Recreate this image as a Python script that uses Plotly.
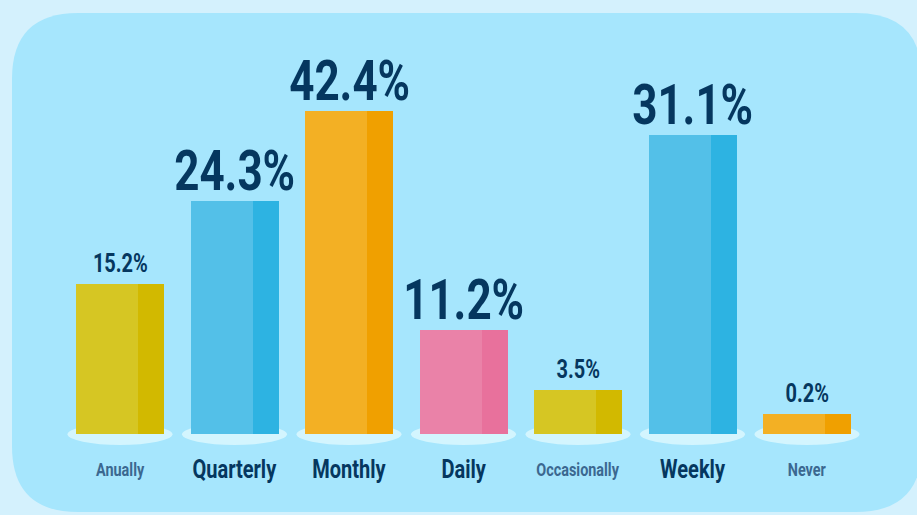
import plotly.graph_objects as go

# ---- data ----
categories = ["Anually", "Quarterly", "Monthly", "Daily", "Occasionally", "Weekly", "Never"]
value_labels = ["15.2%", "24.3%", "42.4%", "11.2%", "3.5%", "31.1%", "0.2%"]
bar_heights = [150, 233, 323, 104, 44, 299, 20]   # visual bar height as drawn
emphasis = [False, True, True, True, False, True, False]
light_colors = ["#d6c623", "#53c0e8", "#f3b024", "#ea82a8", "#d6c623", "#53c0e8", "#f3b024"]
dark_colors = ["#d2b900", "#2db3e2", "#f0a000", "#e8719c", "#d2b900", "#2db3e2", "#f0a000"]

W, H = 917, 515
SPACING = 114.5          # px per category
X0_PX = 120              # px centre of first category
BASE_PX = 434            # px of bar base

xs = list(range(len(categories)))
xrange_ = [-X0_PX / SPACING, (W - X0_PX) / SPACING]
yrange_ = [BASE_PX - H, BASE_PX]

bar_w = 88 / SPACING
light_w = 62 / SPACING
dark_w = bar_w - light_w

FONT = "Roboto, DejaVu Sans Condensed, sans-serif"
NAVY = "#05375f"
GREY = "#3b6890"
CONDENSE = 0.8

fig = go.Figure()
fig.add_trace(go.Bar(x=xs, y=bar_heights, width=light_w, offset=-bar_w / 2,
                     marker=dict(color=light_colors, line=dict(width=0)),
                     hoverinfo="skip", showlegend=False))
fig.add_trace(go.Bar(x=xs, y=bar_heights, width=dark_w, offset=-bar_w / 2 + light_w,
                     marker=dict(color=dark_colors, line=dict(width=0)),
                     hoverinfo="skip", showlegend=False))

shapes = []
def px(x):
    return x / W
def py(y):
    return 1 - y / H

L, T, R, B, r = 12, 13, 922, 512, 66
path = (f"M {px(L + r)},{py(T)} L {px(R - r)},{py(T)} "
        f"Q {px(R)},{py(T)} {px(R)},{py(T + r)} "
        f"L {px(R)},{py(B - r)} Q {px(R)},{py(B)} {px(R - r)},{py(B)} "
        f"L {px(L + r)},{py(B)} Q {px(L)},{py(B)} {px(L)},{py(B - r)} "
        f"L {px(L)},{py(T + r)} Q {px(L)},{py(T)} {px(L + r)},{py(T)} Z")
shapes.append(dict(type="path", path=path, xref="paper", yref="paper",
                   fillcolor="#a6e6fd", line=dict(width=0), layer="below"))

ell_w = 105 / SPACING
for x in xs:
    shapes.append(dict(type="circle", xref="x", yref="y",
                       x0=x - ell_w / 2, x1=x + ell_w / 2, y0=-11, y1=10.5,
                       fillcolor="#d3f5fe", line=dict(width=0), layer="below"))

annotations = []
for x, h, lab, big in zip(xs, bar_heights, value_labels, emphasis):
    annotations.append(dict(x=x, y=h, xref="x", yref="y", text=f"<b>{lab}</b>",
                            showarrow=False, yanchor="bottom", xanchor="center",
                            yshift=-4 if big else 4,
                            font=dict(family=FONT, size=55 if big else 25, color=NAVY)))
for x, cat, big in zip(xs, categories, emphasis):
    annotations.append(dict(x=x, y=-35, xref="x", yref="y", text=f"<b>{cat}</b>",
                            showarrow=False, yanchor="middle", xanchor="center",
                            font=dict(family=FONT, size=25 if big else 18,
                                      color=NAVY if big else GREY)))

fig.update_layout(
    width=W, height=H,
    margin=dict(l=0, r=0, t=0, b=0),
    paper_bgcolor="#d4f1fd", plot_bgcolor="rgba(0,0,0,0)",
    barmode="overlay", bargap=0,
    xaxis=dict(range=xrange_, visible=False, fixedrange=True),
    yaxis=dict(range=yrange_, visible=False, fixedrange=True),
    shapes=shapes, annotations=annotations,
)

post = """
document.body.style.margin = '0';
var gd = document.getElementById('{plot_id}');
gd.querySelectorAll('.annotation-text').forEach(function(t) {
    var w = t.getComputedTextLength();
    t.setAttribute('textLength', (w * %s).toFixed(1));
    t.setAttribute('lengthAdjust', 'spacingAndGlyphs');
});
""" % CONDENSE

fig.write_html("out.html", post_script=post, config={"displayModeBar": False})
